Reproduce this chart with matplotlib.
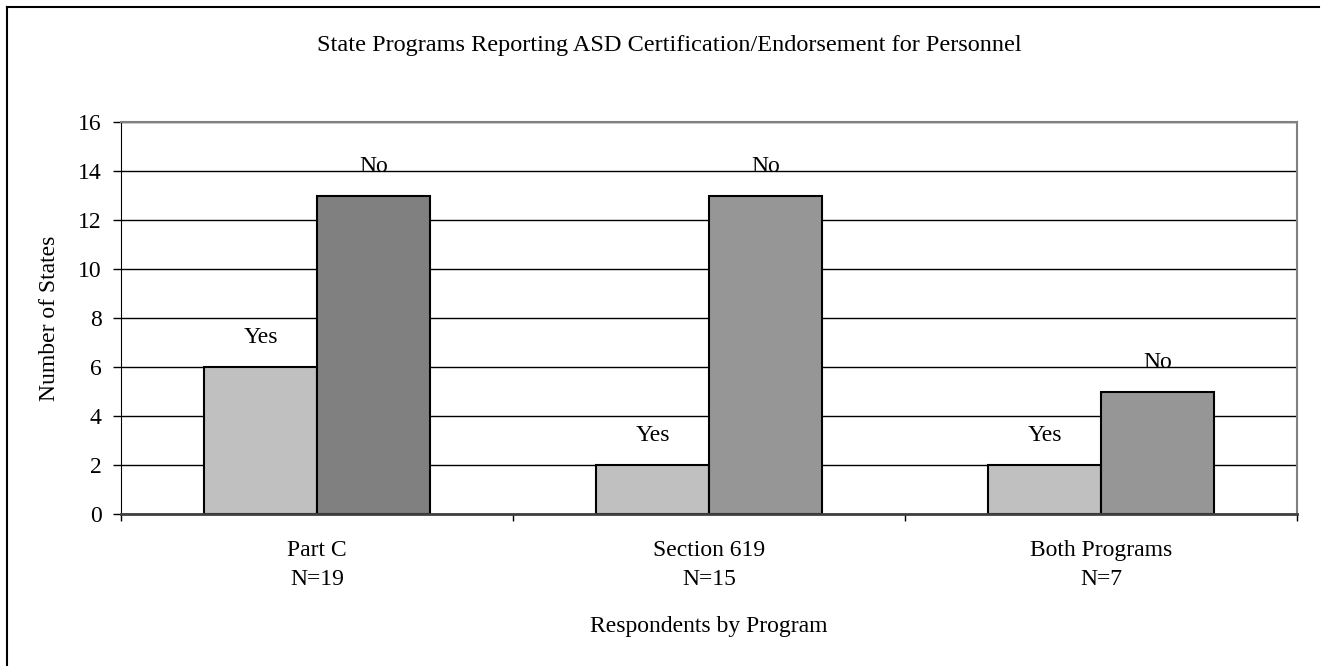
import numpy as np
import matplotlib
matplotlib.use('Agg')
import matplotlib.pyplot as plt
from matplotlib.lines import Line2D

plt.rcParams['font.family'] = ['Liberation Serif', 'DejaVu Serif']

programs = ['Part C\nN=19', 'Section 619\nN=15', 'Both Programs\nN=7']
yes_counts = [6, 2, 2]
no_counts = [13, 13, 5]
yes_color = '#C0C0C0'
no_colors = ['#808080', '#969696', '#969696']

fs = 17

fig = plt.figure(figsize=(13.22, 6.66), dpi=100)
ax = fig.add_axes([0.0915, 0.2282, 0.8895, 0.5886])

x = np.arange(len(programs))
w = 0.288
ax.set_axisbelow(True)
b1 = ax.bar(x - w / 2, yes_counts, w, color=yes_color, edgecolor='black', linewidth=1.5)
b2 = ax.bar(x + w / 2, no_counts, w, color=no_colors, edgecolor='black', linewidth=1.5)

for rects, lab in [(b1, 'Yes'), (b2, 'No')]:
    for r in rects:
        ax.annotate(lab, (r.get_x() + r.get_width() / 2, r.get_height()),
                    xytext=(0, 21), textcoords='offset points',
                    ha='center', va='center', fontsize=fs)

ax.set_xlim(-0.5, 2.5)
ax.set_ylim(0, 16)
ax.set_yticks(range(0, 17, 2))
ax.yaxis.grid(True, color='black', linewidth=1)
ax.set_xticks(x)
ax.set_xticklabels(programs, fontsize=fs, linespacing=1.5)
ax.set_xticks([-0.5, 0.5, 1.5, 2.5], minor=True)
ax.tick_params(axis='x', which='major', length=0, pad=18.5)
ax.tick_params(axis='x', which='minor', length=5, width=1)
ax.tick_params(axis='y', length=6, width=1, labelsize=fs, pad=8)

for s in ['top', 'right']:
    ax.spines[s].set_color('#808080')
    ax.spines[s].set_linewidth(1.5)
ax.spines['left'].set_color('black')
ax.spines['bottom'].set_color('#404040')
ax.spines['bottom'].set_linewidth(2)

ax.set_ylabel('Number of States', fontsize=fs, labelpad=13)
ax.set_xlabel('Respondents by Program', fontsize=fs, labelpad=19)
fig.text(0.506, 0.932, 'State Programs Reporting ASD Certification/Endorsement for Personnel',
         ha='center', va='center', fontsize=17.5)

# outer frame (left and top edges)
fig.add_artist(Line2D([0.0053, 0.0053], [0, 0.9895], transform=fig.transFigure, color='black', linewidth=1.5))
fig.add_artist(Line2D([0.0053, 0.998], [0.9895, 0.9895], transform=fig.transFigure, color='black', linewidth=1.5))

fig.savefig('out.png', dpi=100)
